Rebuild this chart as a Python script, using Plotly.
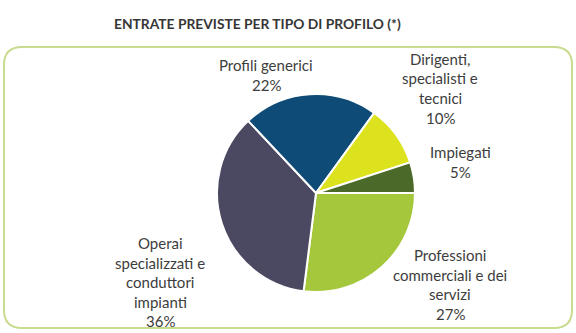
import plotly.graph_objects as go

W, H = 576, 333

# Data
categories = [
    "Professioni commerciali e dei servizi",
    "Operai specializzati e conduttori impianti",
    "Profili generici",
    "Dirigenti, specialisti e tecnici",
    "Impiegati",
]
values = [27, 36, 22, 10, 5]
label_lines = [
    ["Professioni", "commerciali e dei", "servizi"],
    ["Operai", "specializzati e", "conduttori", "impianti"],
    ["Profili generici"],
    ["Dirigenti,", "specialisti e", "tecnici"],
    ["Impiegati"],
]
colors = ["#a4c73b", "#4a4961", "#0e4b77", "#dde21f", "#4b6a2a"]

# Label placement (pixel centre of first line), line spacing
label_pos = [(450, 255), (160, 243), (266, 65), (440, 59), (460, 152)]
line_gap = 19.5

cx, cy, r = 316, 193, 99

fig = go.Figure(go.Pie(
    labels=categories,
    values=values,
    sort=False,
    direction="clockwise",
    rotation=90,
    marker=dict(colors=colors, line=dict(color="white", width=2)),
    textinfo="none",
    hoverinfo="label+percent",
    domain=dict(x=[(cx - r) / W, (cx + r) / W], y=[(H - cy - r) / H, (H - cy + r) / H]),
    showlegend=False,
))

font_family = "Lato, 'Open Sans', sans-serif"
annotations = []
for lines, val, (px_, py_) in zip(label_lines, values, label_pos):
    allines = lines + [f"{val}%"]
    for i, t in enumerate(allines):
        annotations.append(dict(
            x=px_ / W, y=1 - (py_ + i * line_gap) / H, xref="paper", yref="paper",
            text=t, showarrow=False, xanchor="center", yanchor="middle",
            font=dict(family=font_family, size=15, color="#3d3d3d"),
        ))

annotations.append(dict(
    x=257 / W, y=1 - 23 / H, xref="paper", yref="paper",
    text="<b>ENTRATE PREVISTE PER TIPO DI PROFILO (*)</b>", showarrow=False,
    xanchor="center", yanchor="middle",
    font=dict(family=font_family, size=13.8, color="#363636"),
))

# rounded border box
x0, x1, y0, y1, rad = 4, 572, 47, 328, 18
def px(x):
    return x / W
def py(y):
    return 1 - y / H
path = (
    f"M {px(x0 + rad)} {py(y0)} L {px(x1 - rad)} {py(y0)} "
    f"Q {px(x1)} {py(y0)} {px(x1)} {py(y0 + rad)} "
    f"L {px(x1)} {py(y1 - rad)} Q {px(x1)} {py(y1)} {px(x1 - rad)} {py(y1)} "
    f"L {px(x0 + rad)} {py(y1)} Q {px(x0)} {py(y1)} {px(x0)} {py(y1 - rad)} "
    f"L {px(x0)} {py(y0 + rad)} Q {px(x0)} {py(y0)} {px(x0 + rad)} {py(y0)} Z"
)

fig.update_layout(
    width=W, height=H,
    margin=dict(l=0, r=0, t=0, b=0),
    paper_bgcolor="white", plot_bgcolor="white",
    annotations=annotations,
    shapes=[dict(type="path", path=path, xref="paper", yref="paper",
                 line=dict(color="#c8db8e", width=2), layer="below")],
)

fig.write_html("out.html")
